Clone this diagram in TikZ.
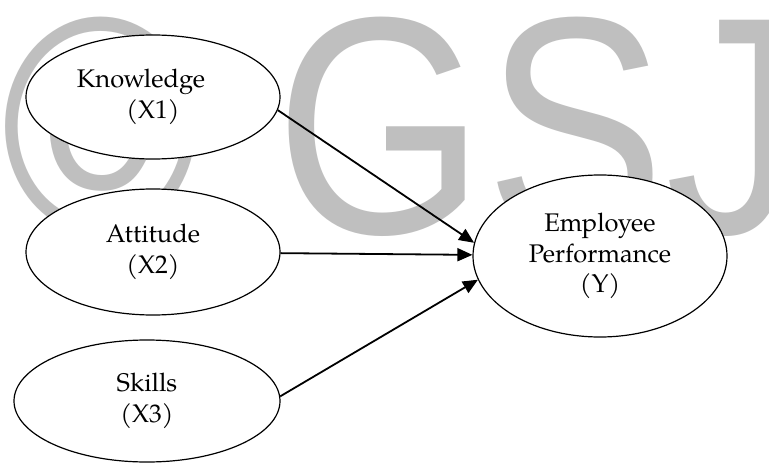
\documentclass[tikz,border=0pt]{standalone}
\usepackage{fontspec}
\setmainfont{TeX Gyre Pagella}
\newfontfamily\wmfont{Liberation Sans}
\usepackage{tikz}
\usetikzlibrary{arrows.meta}
\usetikzlibrary{shapes.geometric, positioning}
\tikzstyle{oval}=[ellipse, draw, fill=white, line width=1.2pt, inner sep=0pt, align=center]
\tikzstyle{wmark}=[text=black!25, inner sep=0pt, font=\wmfont\fontsize{310pt}{310pt}\selectfont]

\begin{document}
\begin{tikzpicture}[x=1pt, y=-1pt]

\tikzset{>={Triangle[length=15pt, width=13pt]}}
\tikzset{every node/.style={font=\fontsize{25.5pt}{30.5pt}\selectfont}}
\tikzset{every path/.style={line width=1.8pt}}

\fill[white] (0,0) rectangle (769,463);
\useasboundingbox (0,0) rectangle (769,463);

% watermark behind everything
\node[wmark, anchor=base west] (wm) at (1,233) {\scalebox{0.87}[1]{© GSJ}};

% the four variables
\node[oval, minimum width=254pt, minimum height=124pt] (know) at (153,97) {Knowledge\hspace*{24pt}\\(X1)};
\node[oval, minimum width=254pt, minimum height=126pt] (att) at (153,252) {Attitude\\(X2)};
\node[oval, minimum width=266pt, minimum height=122pt] (skill) at (147,401) {Skills\\(X3)};
\node[oval, minimum width=254pt, minimum height=162pt] (perf) at (600,256) {Employee\\Performance\\(Y)};

\draw[->] (know.-6) -- (perf.174); % X1 -> Y
\draw[->] (att) -- (perf); % X2 -> Y
\draw[->] (skill.2) -- (perf.191); % X3 -> Y

\end{tikzpicture}
\end{document}
